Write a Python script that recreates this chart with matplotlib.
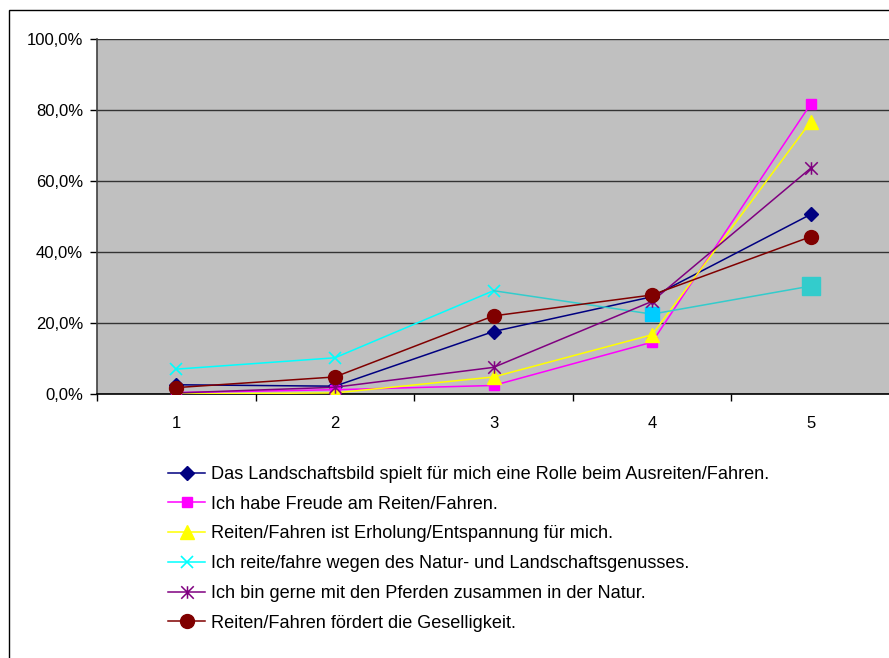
#!/usr/bin/env python

import numpy as np
import matplotlib
matplotlib.use("Agg")
import matplotlib.pyplot as plt
from matplotlib.path import Path
from matplotlib.patches import Rectangle
from matplotlib.ticker import FuncFormatter, FixedLocator

# ----------------------------------------------------------------------
# data (percent)
# ----------------------------------------------------------------------

categories = [1, 2, 3, 4, 5]

landschaftsbild = [2.6, 2.2, 17.6, 27.4, 50.6]
freude = [0.4, 1.2, 2.4, 14.6, 81.7]
erholung = [0.0, 0.3, 4.8, 16.7, 76.7]
naturgenuss = [7.0, 10.2, 29.1, 22.5, 30.4]
pferde_natur = [0.3, 1.9, 7.5, 26.1, 63.6]
geselligkeit = [1.8, 4.8, 22.0, 27.9, 44.3]

labels = [
    "Das Landschaftsbild spielt für mich eine Rolle beim Ausreiten/Fahren.",
    "Ich habe Freude am Reiten/Fahren.",
    "Reiten/Fahren ist Erholung/Entspannung für mich.",
    "Ich reite/fahre wegen des Natur- und Landschaftsgenusses.",
    "Ich bin gerne mit den Pferden zusammen in der Natur.",
    "Reiten/Fahren fördert die Geselligkeit.",
]

yticks = [0, 20, 40, 60, 80, 100]

# ----------------------------------------------------------------------
# Main code
# ----------------------------------------------------------------------

if __name__ == "__main__":

    plt.rcParams['font.family'] = ['Liberation Sans', 'DejaVu Sans']

    W, H = 889, 658
    fig = plt.figure(figsize=(W / 100, H / 100), dpi=100)

    # outer chart border (right/bottom edges run off the picture):
    fig.patches.append(Rectangle((9 / W, -0.05), 1.0, 1 - 10 / H + 0.05,
                                 transform=fig.transFigure, fill=False,
                                 edgecolor='black', lw=1.0))

    ax = fig.add_axes([97 / W, 264 / H, 793 / W, 355 / H])
    ax.set_facecolor('#C0C0C0')

    x = np.array(categories)

    # asterisk marker (x plus vertical line), like the Excel one:
    star = Path([(0, -1), (0, 1), (-1, -1), (1, 1), (-1, 1), (1, -1)],
                [Path.MOVETO, Path.LINETO, Path.MOVETO, Path.LINETO,
                 Path.MOVETO, Path.LINETO])

    lw = 1.1
    ax.plot(x, landschaftsbild, color='#000080', lw=lw, marker='D', ms=7.5,
            label=labels[0], zorder=3)
    ax.plot(x, freude, color='#FF00FF', lw=lw, marker='s', ms=6.5,
            label=labels[1], zorder=3)
    ax.plot(x, erholung, color='#FFFF00', lw=lw, marker='^', ms=9.5,
            label=labels[2], zorder=3)

    # natur series has its last two points formatted differently:
    nat = np.array(naturgenuss)
    ax.plot(x[:3], nat[:3], color='#00FFFF', lw=lw, marker='x', ms=8,
            mew=1.2, label=labels[3], zorder=3)
    ax.plot(x[2:], nat[2:], color='#33CCCC', lw=lw, zorder=3)
    ax.plot(x[3], nat[3], ls='none', marker='s', ms=9.5, color='#00CCFF',
            zorder=3)
    ax.plot(x[4], nat[4], ls='none', marker='s', ms=13, color='#33CCCC',
            zorder=3)

    ax.plot(x, pferde_natur, color='#800080', lw=lw, marker=star, ms=9,
            mew=1.1, label=labels[4], zorder=3)
    ax.plot(x, geselligkeit, color='#800000', lw=lw, marker='o', ms=10,
            label=labels[5], zorder=3)

    # axes:
    ax.set_xlim(0.5, 5.5)
    ax.set_ylim(0, 100)
    ax.set_yticks(yticks)
    ax.yaxis.set_major_formatter(
        FuncFormatter(lambda v, p: ('%.1f%%' % v).replace('.', ',')))
    ax.set_xticks(categories)
    ax.xaxis.set_minor_locator(FixedLocator(np.arange(0.5, 6.0, 1.0)))

    ax.tick_params(axis='x', which='major', length=0, pad=16, labelsize=12)
    ax.tick_params(axis='x', which='minor', length=5, width=1,
                   direction='out', color='black')
    ax.tick_params(axis='y', length=5, width=1, direction='out', pad=5,
                   labelsize=12, color='black')

    ax.grid(axis='y', color='#333333', lw=1.0)
    ax.set_axisbelow(True)

    ax.spines['right'].set_visible(False)
    ax.spines['top'].set_visible(False)
    ax.spines['left'].set_color('#404040')
    ax.spines['bottom'].set_color('black')
    for s in ('left', 'bottom'):
        ax.spines[s].set_linewidth(1.2)

    # legend below the plot:
    fig.legend(loc='upper left', bbox_to_anchor=(168 / W, 1 - 466 / H),
               frameon=False, fontsize=13.1, borderpad=0, handlelength=2.05,
               handletextpad=0.3, labelspacing=0.7, borderaxespad=0)

    plotfile = 'out.png'
    print('writing : ', plotfile)
    fig.savefig(plotfile, dpi=100)
    plt.close()
